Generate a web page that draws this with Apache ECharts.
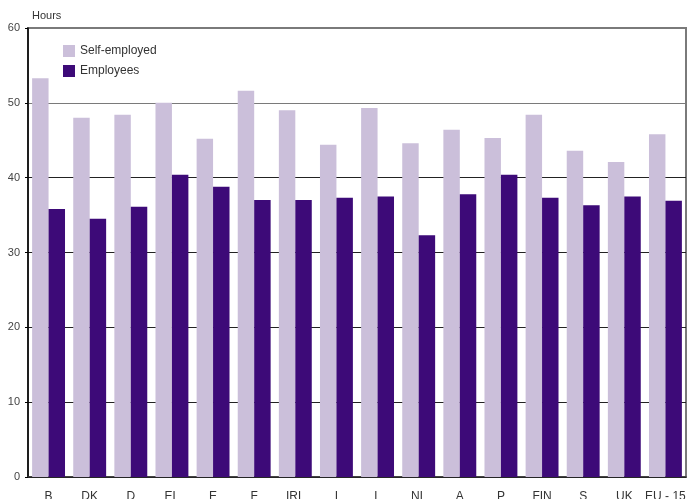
<!DOCTYPE html>
<html><head><meta charset="utf-8">
<script src="https://cdn.jsdelivr.net/npm/echarts@6/dist/echarts.min.js"></script>
<style>html,body{margin:0;padding:0;background:#fff}#c{width:690px;height:499px}</style>
</head><body><div id="c"></div>
<script>
const categories = ['B','DK','D','EL','E','F','IRL','I','L','NL','A','P','FIN','S','UK','EU - 15'];
const selfEmployed = [53.3,48.0,48.4,50.0,45.2,51.6,49.0,44.4,49.3,44.6,46.4,45.3,48.4,43.6,42.1,45.8];
const employees = [35.8,34.5,36.1,40.4,38.8,37.0,37.0,37.3,37.5,32.3,37.8,40.4,37.3,36.3,37.5,36.9];
const yTicks = {min:0, max:60, interval:10};
const font = 'Liberation Sans, Arial, sans-serif';
const chart = echarts.init(document.getElementById('c'));
chart.setOption({
  animation:false,
  textStyle:{fontFamily:font},
  grid:{left:28,right:4,top:28,bottom:22,show:true,borderColor:'#7a7a7a',borderWidth:2,
    outerBoundsMode:'none',containLabel:false},
  legend:{left:58,top:40,orient:'vertical',itemWidth:12,itemHeight:12,itemGap:8,icon:'rect',
    textStyle:{fontSize:12,color:'#333',fontFamily:font},
    data:['Self-employed','Employees']},
  xAxis:{type:'category',data:categories,
    axisLine:{lineStyle:{color:'#333',width:1.5}},axisTick:{show:false},
    axisLabel:{color:'#333',fontSize:12,margin:14,interval:0}},
  yAxis:{type:'value',min:yTicks.min,max:yTicks.max,interval:yTicks.interval,
    name:'Hours',nameLocation:'end',nameGap:7,
    nameTextStyle:{color:'#333',fontSize:11,align:'left',padding:[0,0,0,4]},
    axisLine:{show:true,lineStyle:{color:'#000',width:1.5}},
    axisTick:{show:true,length:3,lineStyle:{color:'#000'}},
    axisLabel:{color:'#444',fontSize:11,margin:8},
    splitLine:{show:true,lineStyle:{color:['#000','#222','#222','#222','#222','#7a7a7a','#7a7a7a'],width:1.2}}},
  series:[
    {name:'Self-employed',type:'bar',data:selfEmployed,itemStyle:{color:'#CBBFDA'},barGap:'0%',barCategoryGap:'20%'},
    {name:'Employees',type:'bar',data:employees,itemStyle:{color:'#3D0A78'},barGap:'0%',barCategoryGap:'20%'}
  ]
});
</script></body></html>
